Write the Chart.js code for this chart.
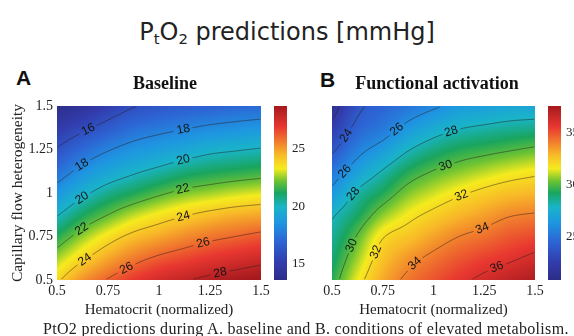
<!DOCTYPE html>
<html>
<head>
<meta charset="utf-8">
<script src="https://cdn.jsdelivr.net/npm/chart.js@4.4.0/dist/chart.umd.min.js"></script>
<style>
  html, body { margin: 0; padding: 0; background: #fff; }
  body { width: 574px; height: 336px; position: relative; overflow: hidden; }
  canvas { position: absolute; }
  #main { position: absolute; left: 0; top: 18px; width: 574px; text-align: center; font-family: "DejaVu Sans"; font-size: 24px; line-height: 28px; color: #222; }
  #main sub { font-size: 0.62em; vertical-align: -0.3em; line-height: 0; }
  .letter { position: absolute; font-family: "Liberation Sans"; font-weight: bold; font-size: 21px; line-height: 21px; color: #111; }
  #caption { position: absolute; left: 43px; top: 320px; font-family: "Liberation Serif"; font-size: 16px; letter-spacing: 0.3px; line-height: 17px; color: #222; white-space: nowrap; }
</style>
</head>
<body>
<div id="main">P<sub>t</sub>O<sub>2</sub> predictions [mmHg]</div>
<div class="letter" style="left:16px;top:67px">A</div>
<div class="letter" style="left:320px;top:69px">B</div>
<canvas id="chartA" width="330" height="262" style="left:0;top:60px"></canvas>
<canvas id="chartB" width="274" height="262" style="left:300px;top:60px"></canvas>
<div id="caption">PtO2 predictions during A. baseline and B. conditions of elevated metabolism.</div>
<script>
// hematocrit (x) and capillary flow heterogeneity (y) sample points
const hematocrit = [0.5, 0.625, 0.75, 0.875, 1.0, 1.125, 1.25, 1.375, 1.5];
const heterogeneity = [0.5, 0.625, 0.75, 0.875, 1.0, 1.125, 1.25, 1.375, 1.5];

// PtO2 [mmHg], one row per heterogeneity value, columns follow hematocrit
const baselinePto2 = [
  [23.8, 25.2, 26.1, 26.9, 27.5, 27.9, 28.3, 28.6, 28.9],
  [22.6, 23.8, 24.8, 25.6, 26.2, 26.6, 27.0, 27.3, 27.6],
  [21.3, 22.5, 23.5, 24.3, 24.8, 25.3, 25.7, 26.0, 26.3],
  [19.9, 21.1, 22.0, 22.8, 23.4, 23.9, 24.3, 24.6, 24.8],
  [18.6, 19.7, 20.6, 21.2, 21.8, 22.3, 22.6, 22.9, 23.1],
  [17.3, 18.4, 19.2, 19.8, 20.3, 20.8, 21.1, 21.3, 21.5],
  [16.1, 17.1, 17.9, 18.5, 18.9, 19.3, 19.7, 19.9, 20.1],
  [14.9, 15.7, 16.5, 17.2, 17.6, 17.9, 18.2, 18.4, 18.6],
  [13.7, 14.3, 15.1, 15.9, 16.3, 16.6, 16.8, 17.0, 17.1]
];
const activationPto2 = [
  [29.4, 31.5, 33.2, 34.3, 35.0, 35.7, 36.3, 36.85, 37.35],
  [28.9, 30.8, 32.6, 33.6, 34.3, 34.9, 35.4, 35.8, 36.3],
  [28.4, 30.1, 31.9, 32.6, 33.35, 34.0, 34.4, 34.9, 35.2],
  [27.8, 29.1, 30.6, 31.6, 32.3, 32.9, 33.4, 33.9, 34.1],
  [26.4, 28.2, 29.3, 30.5, 31.2, 31.8, 32.3, 32.7, 32.9],
  [25.1, 26.8, 28.1, 29.3, 30.05, 30.55, 31.0, 31.4, 31.7],
  [23.7, 25.5, 26.6, 27.9, 28.75, 29.3, 29.6, 29.9, 30.2],
  [22.4, 24.4, 25.25, 26.4, 27.3, 27.9, 28.2, 28.45, 28.6],
  [21.2, 23.6, 24.5, 25.1, 25.75, 26.5, 26.7, 27.0, 27.1]
];

const axisTicks = [0.5, 0.75, 1, 1.25, 1.5];
const baselineLevels = [16, 18, 20, 22, 24, 26, 28];
const activationLevels = [22, 24, 26, 28, 30, 32, 34, 36];
const baselineBarTicks = [15, 20, 25];
const activationBarTicks = [25, 30, 35];
const baselineBarRange = [13.6, 28.7];
const activationBarRange = [20.8, 37.6];

const serif = 'Liberation Serif';

// jet-like map as it looks in the printed figure
const cmap = [
  [0.00, 45, 45, 135], [0.10, 50, 60, 172], [0.22, 45, 100, 212],
  [0.33, 30, 150, 225], [0.42, 25, 180, 200], [0.50, 25, 165, 95],
  [0.57, 110, 195, 50], [0.64, 245, 235, 30], [0.72, 248, 185, 40],
  [0.80, 240, 120, 45], [0.88, 232, 55, 48], [1.00, 165, 25, 30]
];
function colorFor(t) {
  t = Math.max(0, Math.min(1, t));
  let k = 1;
  while (k < cmap.length - 1 && cmap[k][0] < t) k++;
  const a = cmap[k - 1], b = cmap[k];
  const f = (t - a[0]) / (b[0] - a[0]);
  return [0, 1, 2].map(c => Math.round(a[c + 1] + (b[c + 1] - a[c + 1]) * f));
}

function locate(arr, v) {
  const n = arr.length;
  if (v <= arr[0]) return 0;
  if (v >= arr[n - 1]) return n - 1;
  let i = 0;
  while (arr[i + 1] < v) i++;
  return i + (v - arr[i]) / (arr[i + 1] - arr[i]);
}
function cubic(p0, p1, p2, p3, t) {
  return p1 + 0.5 * t * (p2 - p0 + t * (2 * p0 - 5 * p1 + 4 * p2 - p3 + t * (3 * (p1 - p2) + p3 - p0)));
}
function pick(list, k) {
  const n = list.length;
  if (k < 0) return 2 * list[0] - list[1];
  if (k > n - 1) return 2 * list[n - 1] - list[n - 2];
  return list[k];
}
function valueAt(grid, xv, yv) {
  const fx = locate(hematocrit, xv), fy = locate(heterogeneity, yv);
  const ix = Math.min(Math.floor(fx), hematocrit.length - 2);
  const iy = Math.min(Math.floor(fy), heterogeneity.length - 2);
  const tx = fx - ix, ty = fy - iy;
  const rowVal = r => {
    const g = r < 0 ? grid[0].map((v, c) => 2 * v - grid[1][c])
      : r > grid.length - 1 ? grid[grid.length - 1].map((v, c) => 2 * v - grid[grid.length - 2][c])
      : grid[r];
    return cubic(pick(g, ix - 1), pick(g, ix), pick(g, ix + 1), pick(g, ix + 2), tx);
  };
  return cubic(rowVal(iy - 1), rowVal(iy), rowVal(iy + 1), rowVal(iy + 2), ty);
}

// one polyline per level: PtO2 falls as heterogeneity rises, so each column crosses once
function traceRuns(field, w, h, left, top, level) {
  const runs = [];
  let cur = null;
  for (let i = 0; i < w; i++) {
    let pt = null;
    for (let j = h - 1; j > 0; j--) {
      const a0 = field[j * w + i], a1 = field[(j - 1) * w + i];
      if (a0 >= level && a1 < level) {
        const t = (a0 - level) / (a0 - a1);
        pt = [left + i + 0.5, top + j + 0.5 - t];
        break;
      }
    }
    if (pt) { if (!cur) { cur = []; runs.push(cur); } cur.push(pt); }
    else cur = null;
  }
  return runs;
}

function pointAt(pts, s, len) {
  let k = 1;
  while (k < pts.length - 1 && s[k] < len) k++;
  const f = (len - s[k - 1]) / ((s[k] - s[k - 1]) || 1);
  return [pts[k - 1][0] + (pts[k][0] - pts[k - 1][0]) * f, pts[k - 1][1] + (pts[k][1] - pts[k - 1][1]) * f];
}

function drawContour(ctx, pts, level) {
  if (pts.length < 2) return;
  const s = [0];
  for (let k = 1; k < pts.length; k++) s.push(s[k - 1] + Math.hypot(pts[k][0] - pts[k - 1][0], pts[k][1] - pts[k - 1][1]));
  const L = s[s.length - 1];
  const marks = L < 45 ? [] : L < 115 ? [0.4 * L] : [0.14 * L, 0.64 * L];
  ctx.font = '12px "Liberation Sans"';
  const text = String(level);
  const gap = ctx.measureText(text).width / 2 + 3;

  ctx.strokeStyle = 'rgba(40,25,25,0.5)';
  ctx.lineWidth = 1;
  ctx.beginPath();
  let pen = false;
  for (let k = 1; k < pts.length; k++) {
    const mid = (s[k] + s[k - 1]) / 2;
    const hidden = marks.some(m => Math.abs(mid - m) < gap);
    if (hidden) { pen = false; continue; }
    if (!pen) { ctx.moveTo(pts[k - 1][0], pts[k - 1][1]); pen = true; }
    ctx.lineTo(pts[k][0], pts[k][1]);
  }
  ctx.stroke();

  ctx.fillStyle = '#151515';
  ctx.textAlign = 'center';
  ctx.textBaseline = 'middle';
  marks.forEach(m => {
    const p = pointAt(pts, s, m);
    const p0 = pointAt(pts, s, Math.max(0, m - 7));
    const p1 = pointAt(pts, s, Math.min(L, m + 7));
    let ang = Math.atan2(p1[1] - p0[1], p1[0] - p0[0]);
    if (ang > Math.PI / 2) ang -= Math.PI;
    if (ang < -Math.PI / 2) ang += Math.PI;
    ctx.save();
    ctx.translate(p[0], p[1]);
    ctx.rotate(ang);
    ctx.fillText(text, 0, 0);
    ctx.restore();
  });
}

const heatmapPlugin = {
  id: 'heatmap',
  beforeDatasetsDraw(chart, args, opts) {
    const ctx = chart.ctx, a = chart.chartArea;
    const xs = chart.scales.x, ys = chart.scales.y, cs = chart.scales.cb;
    const left = Math.round(a.left), top = Math.round(a.top);
    const w = Math.round(a.right) - left, h = Math.round(a.bottom) - top;
    const img = ctx.createImageData(w, h);
    const field = new Float32Array(w * h);
    const xv = [], yv = [];
    for (let i = 0; i < w; i++) xv.push(xs.getValueForPixel(left + i + 0.5));
    for (let j = 0; j < h; j++) yv.push(ys.getValueForPixel(top + j + 0.5));
    for (let j = 0; j < h; j++) {
      for (let i = 0; i < w; i++) {
        const v = valueAt(opts.grid, xv[i], yv[j]);
        field[j * w + i] = v;
        const c = colorFor((v - cs.min) / (cs.max - cs.min));
        const o = (j * w + i) * 4;
        img.data[o] = c[0]; img.data[o + 1] = c[1]; img.data[o + 2] = c[2]; img.data[o + 3] = 255;
      }
    }
    ctx.putImageData(img, left, top);

    // colour bar beside the plot, read through the bar's own scale
    const bx = Math.round(a.right) + 13;
    for (let py = Math.round(cs.top); py < Math.round(cs.bottom); py++) {
      const c = colorFor((cs.getValueForPixel(py + 0.5) - cs.min) / (cs.max - cs.min));
      ctx.fillStyle = 'rgb(' + c.join(',') + ')';
      ctx.fillRect(bx, py, 13, 1);
    }

    opts.levels.forEach(level => {
      traceRuns(field, w, h, left, top, level).forEach(run => drawContour(ctx, run, level));
    });
  }
};

const tickText = v => String(Number(v.toFixed(2)));

function panelConfig(grid, levels, barTicks, barRange, title, withY) {
  return {
    type: 'scatter',
    data: { datasets: [] },
    options: {
      responsive: false,
      animation: false,
      events: [],
      layout: { padding: 0 },
      plugins: {
        legend: { display: false },
        tooltip: { enabled: false },
        title: {
          display: true, text: title, color: '#111',
          font: { family: serif, size: 18, weight: 'bold' },
          padding: { top: 14, bottom: 10.4 }
        },
        heatmap: { grid: grid, levels: levels }
      },
      scales: {
        x: {
          type: 'linear', position: 'bottom', min: 0.5, max: 1.5,
          afterBuildTicks: s => { s.ticks = axisTicks.map(v => ({ value: v })); },
          afterFit: s => { s.height = 42; },
          grid: { display: false, drawTicks: false },
          border: { display: false },
          ticks: { padding: 3, autoSkip: false, maxRotation: 0, color: '#222', font: { family: serif, size: 14 }, callback: tickText },
          title: { display: true, text: 'Hematocrit (normalized)', color: '#222', font: { family: serif, size: 15 }, padding: { top: 0, bottom: 3 } }
        },
        y: {
          type: 'linear', position: 'left', min: 0.5, max: 1.5,
          afterBuildTicks: s => { s.ticks = axisTicks.map(v => ({ value: v })); },
          afterFit: s => { s.width = withY ? 57 : 32; },
          grid: { display: false, drawTicks: false },
          border: { display: false },
          ticks: { display: withY, padding: 4, autoSkip: false, color: '#222', font: { family: serif, size: 14 }, callback: tickText },
          title: { display: withY, text: 'Capillary flow heterogeneity', color: '#222', font: { family: serif, size: 15.5 }, padding: { top: 8.7, bottom: 0 } }
        },
        cb: {
          type: 'linear', axis: 'y', position: 'right', min: barRange[0], max: barRange[1],
          afterBuildTicks: s => { s.ticks = barTicks.map(v => ({ value: v })); },
          afterFit: s => { s.width = withY ? 69 : 39; },
          grid: { display: false, drawTicks: false },
          border: { display: false },
          ticks: { padding: 31, color: '#222', font: { family: serif, size: 13 } }
        }
      }
    },
    plugins: [heatmapPlugin]
  };
}

new Chart(document.getElementById('chartA'),
  panelConfig(baselinePto2, baselineLevels, baselineBarTicks, baselineBarRange, 'Baseline', true));
new Chart(document.getElementById('chartB'),
  panelConfig(activationPto2, activationLevels, activationBarTicks, activationBarRange, 'Functional activation', false));
</script>
</body>
</html>
